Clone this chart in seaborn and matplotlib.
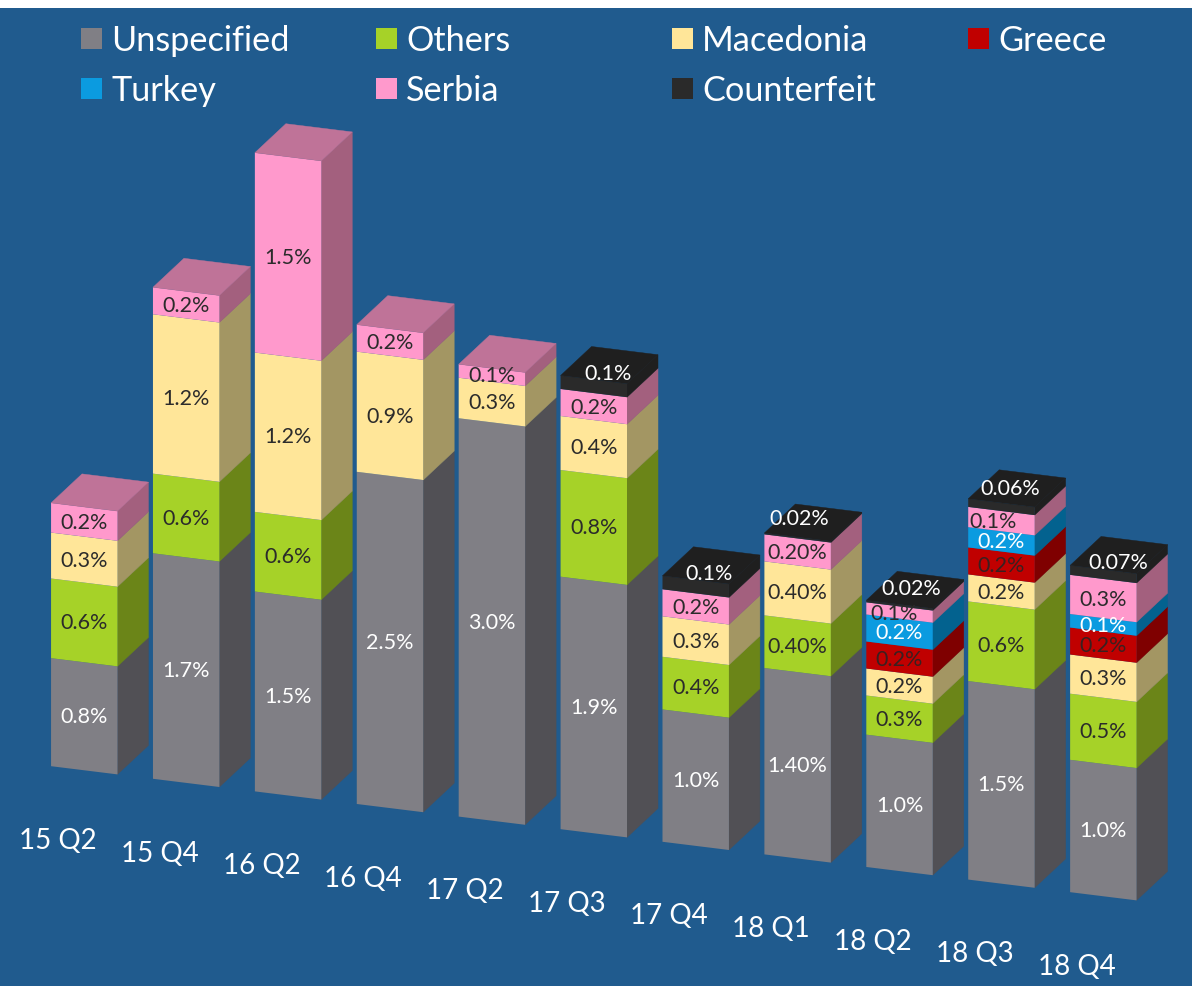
import numpy as np
import pandas as pd
import seaborn as sns
import matplotlib.pyplot as plt
from matplotlib.patches import Polygon, Rectangle
from matplotlib.transforms import Affine2D

quarters = ["15 Q2", "15 Q4", "16 Q2", "16 Q4", "17 Q2", "17 Q3", "17 Q4", "18 Q1", "18 Q2", "18 Q3", "18 Q4"]

# values (in %)
unspecified = [0.80, 1.67, 1.48, 2.46, 2.95, 1.87, 0.98, 1.38, 0.98, 1.47, 0.98]
others = [0.59, 0.59, 0.59, 0, 0, 0.79, 0.39, 0.39, 0.29, 0.59, 0.49]
macedonia = [0.34, 1.18, 1.18, 0.89, 0.30, 0.40, 0.30, 0.40, 0.20, 0.20, 0.29]
greece = [0, 0, 0, 0, 0, 0, 0, 0, 0.20, 0.20, 0.20]
turkey = [0, 0, 0, 0, 0, 0, 0, 0, 0.20, 0.15, 0.10]
serbia = [0.22, 0.20, 1.48, 0.20, 0.10, 0.20, 0.20, 0.20, 0.09, 0.15, 0.29]
counterfeit = [0, 0, 0, 0, 0, 0.10, 0.10, 0.01, 0.015, 0.06, 0.07]

# printed labels, these are rounded differently from the heights
unspecified_lab = ["0.8%", "1.7%", "1.5%", "2.5%", "3.0%", "1.9%", "1.0%", "1.40%", "1.0%", "1.5%", "1.0%"]
others_lab = ["0.6%", "0.6%", "0.6%", "", "", "0.8%", "0.4%", "0.40%", "0.3%", "0.6%", "0.5%"]
macedonia_lab = ["0.3%", "1.2%", "1.2%", "0.9%", "0.3%", "0.4%", "0.3%", "0.40%", "0.2%", "0.2%", "0.3%"]
greece_lab = ["", "", "", "", "", "", "", "", "0.2%", "0.2%", "0.2%"]
turkey_lab = ["", "", "", "", "", "", "", "", "0.2%", "0.2%", "0.1%"]
serbia_lab = ["0.2%", "0.2%", "1.5%", "0.2%", "0.1%", "0.2%", "0.2%", "0.20%", "0.1%", "0.1%", "0.3%"]
counterfeit_lab = ["", "", "", "", "", "0.1%", "0.1%", "0.02%", "0.02%", "0.06%", "0.07%"]

# name, values, labels, front colour, side colour, top colour, text colour
series = [
    ("Unspecified", unspecified, unspecified_lab, "#807F85", "#515055", "#807F85", "white"),
    ("Others", others, others_lab, "#A6D228", "#6B8518", "#A6D228", "#2b2b2b"),
    ("Macedonia", macedonia, macedonia_lab, "#FFE699", "#A39663", "#FFE699", "#2b2b2b"),
    ("Greece", greece, greece_lab, "#C00000", "#7F0000", "#C00000", "#3a2020"),
    ("Turkey", turkey, turkey_lab, "#0B9BE0", "#03628F", "#0B9BE0", "white"),
    ("Serbia", serbia, serbia_lab, "#FF99CC", "#A3607E", "#BF7398", "#2b2b2b"),
    ("Counterfeit", counterfeit, counterfeit_lab, "#2A2A2A", "#1F1F1F", "#1F1F1F", "white"),
]

legend_rows = [["Unspecified", "Others", "Macedonia", "Greece"], ["Turkey", "Serbia", "Counterfeit"]]
legend_x = [81, 376, 672, 968]
legend_y = [39.5, 89.5]

BG = "#205B8E"
W, H = 1192, 987
depth_x, depth_y = 0.304, 0.243
bar_w = 0.652
shear_k = 0.0933

sns.set_theme(style="white")
plt.rcParams["font.family"] = ["Lato", "DejaVu Sans"]

fig = plt.figure(figsize=(W / 100, H / 100), dpi=100, facecolor="white")
ax = fig.add_axes([0, 0, 1, 978 / 987], facecolor=BG)
shear = Affine2D.from_values(1, -shear_k, 0, 1, 0, 0) + ax.transData

bottom = np.zeros(len(quarters))
bottoms = {}
for name, vals, labs, col, side, top, txt in series:
    df = pd.DataFrame({"quarter": quarters, "share": vals})
    sns.barplot(data=df, x="quarter", y="share", order=quarters, color=col, saturation=1,
                width=bar_w, bottom=bottom, errorbar=None, linewidth=0, ax=ax, zorder=3)
    bottoms[name] = bottom.copy()
    bottom = bottom + np.array(vals)
totals = bottom

# side and top faces come from the bars seaborn made
for k, (name, vals, labs, col, side, top, txt) in enumerate(series):
    for i, rect in enumerate(ax.containers[k]):
        rect.set_transform(shear)
        if vals[i] == 0:
            continue
        x0, y0, w, h = rect.get_x(), rect.get_y(), rect.get_width(), rect.get_height()
        x1, y1 = x0 + w, y0 + h
        ax.add_patch(Polygon([(x1, y0), (x1 + depth_x, y0 + depth_y), (x1 + depth_x, y1 + depth_y), (x1, y1)],
                             facecolor=side, edgecolor=side, linewidth=0.3, transform=shear, zorder=2))
        if abs(y1 - totals[i]) < 1e-9:
            ax.add_patch(Polygon([(x0, y1), (x1, y1), (x1 + depth_x, y1 + depth_y), (x0 + depth_x, y1 + depth_y)],
                                 facecolor=top, edgecolor=top, linewidth=0.3, transform=shear, zorder=4))

# the counterfeit labels sit on the top face, each nudged by hand (px)
top_nudge = {5: (14, 7), 6: (13, 7), 7: (2, 19), 8: (12, 16), 9: (9, 15), 10: (15, 8)}
# thin serbia segments where the label drifts left
thin_nudge = {8: -5, 9: -8}

for name, vals, labs, col, side, top, txt in series:
    for i, lab in enumerate(labs):
        if not lab:
            continue
        if name == "Counterfeit":
            dx, dy = top_nudge[i]
            y = totals[i]
        else:
            dx = thin_nudge.get(i, 0) if name == "Serbia" else 0
            dy = 0
            y = bottoms[name][i] + vals[i] / 2
        ax.annotate(lab, (i, y), xycoords=shear, xytext=(dx, dy), textcoords="offset pixels",
                    ha="center", va="center", color=txt, fontsize=15.5, zorder=6)

# category names, following the slant of the floor
for i, q in enumerate(quarters):
    ax.text(i - 0.262, -0.54, q, transform=shear, ha="center", va="center", color="white", fontsize=20, zorder=6)

ax.set_xlim(-0.827, 10.87)
ax.set_ylim(-1.5975, 5.6455)
ax.set_xticks([])
ax.set_yticks([])
ax.set(xlabel="", ylabel="")
sns.despine(ax=ax, left=True, bottom=True)

colors = {s[0]: s[3] for s in series}
for row, y in zip(legend_rows, legend_y):
    for name, x in zip(row, legend_x):
        fig.add_artist(Rectangle((x / W, 1 - (y + 10.5) / H), 21 / W, 21 / H, transform=fig.transFigure,
                                 facecolor=colors[name], edgecolor="none"))
        fig.text((x + 30) / W, 1 - (y + 1.5) / H, name, ha="left", va="center", color="white", fontsize=24.7)

fig.savefig("out.png", dpi=100, facecolor="white")
